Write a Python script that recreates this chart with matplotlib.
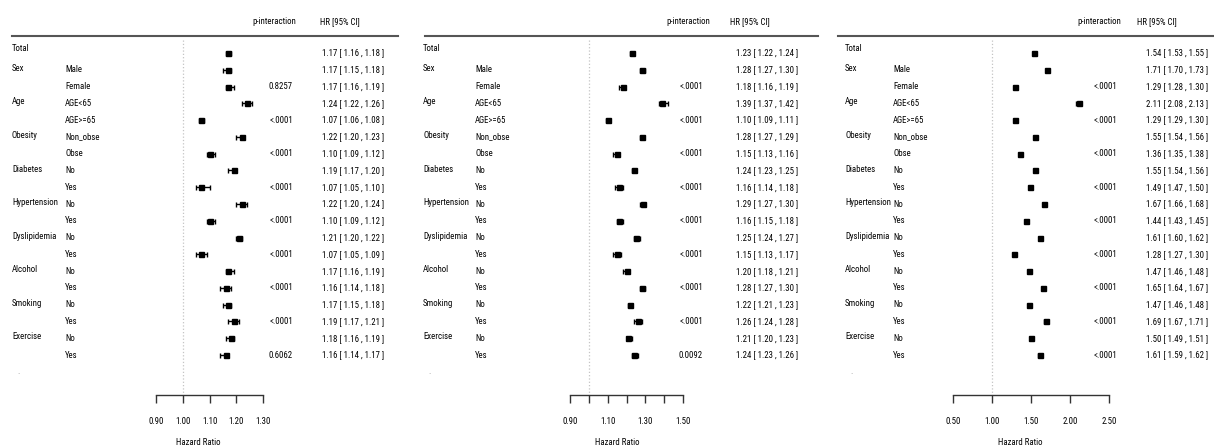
import os
import numpy as np
import matplotlib
matplotlib.use("Agg")
import matplotlib.pyplot as plt
from matplotlib import font_manager as fm
from matplotlib.lines import Line2D
from matplotlib.textpath import TextPath
from matplotlib.transforms import blended_transform_factory

# rows of the forest plots
groups = ["Total", "Sex", "", "Age", "", "Obesity", "", "Diabetes", "", "Hypertension", "",
          "Dyslipidemia", "", "Alcohol", "", "Smoking", "", "Exercise", ""]
subgroups = ["", "Male", "Female", "AGE<65", "AGE>=65", "Non_obse", "Obse", "No", "Yes",
             "No", "Yes", "No", "Yes", "No", "Yes", "No", "Yes", "No", "Yes"]

# panel 1
hr1 = [1.17, 1.17, 1.17, 1.24, 1.07, 1.22, 1.10, 1.19, 1.07, 1.22, 1.10, 1.21, 1.07, 1.17, 1.16, 1.17, 1.19, 1.18, 1.16]
lo1 = [1.16, 1.15, 1.16, 1.22, 1.06, 1.20, 1.09, 1.17, 1.05, 1.20, 1.09, 1.20, 1.05, 1.16, 1.14, 1.15, 1.17, 1.16, 1.14]
hi1 = [1.18, 1.18, 1.19, 1.26, 1.08, 1.23, 1.12, 1.20, 1.10, 1.24, 1.12, 1.22, 1.09, 1.19, 1.18, 1.18, 1.21, 1.19, 1.17]
p1 = ["", "", "0.8257", "", "<.0001", "", "<.0001", "", "<.0001", "", "<.0001", "", "<.0001",
      "", "<.0001", "", "<.0001", "", "0.6062"]

# panel 2
hr2 = [1.23, 1.28, 1.18, 1.39, 1.10, 1.28, 1.15, 1.24, 1.16, 1.29, 1.16, 1.25, 1.15, 1.20, 1.28, 1.22, 1.26, 1.21, 1.24]
lo2 = [1.22, 1.27, 1.16, 1.37, 1.09, 1.27, 1.13, 1.23, 1.14, 1.27, 1.15, 1.24, 1.13, 1.18, 1.27, 1.21, 1.24, 1.20, 1.23]
hi2 = [1.24, 1.30, 1.19, 1.42, 1.11, 1.29, 1.16, 1.25, 1.18, 1.30, 1.18, 1.27, 1.17, 1.21, 1.30, 1.23, 1.28, 1.23, 1.26]
p2 = ["", "", "<.0001", "", "<.0001", "", "<.0001", "", "<.0001", "", "<.0001", "", "<.0001",
      "", "<.0001", "", "<.0001", "", "0.0092"]

# panel 3
hr3 = [1.54, 1.71, 1.29, 2.11, 1.29, 1.55, 1.36, 1.55, 1.49, 1.67, 1.44, 1.61, 1.28, 1.47, 1.65, 1.47, 1.69, 1.50, 1.61]
lo3 = [1.53, 1.70, 1.28, 2.08, 1.29, 1.54, 1.35, 1.54, 1.47, 1.66, 1.43, 1.60, 1.27, 1.46, 1.64, 1.46, 1.67, 1.49, 1.59]
hi3 = [1.55, 1.73, 1.30, 2.13, 1.30, 1.56, 1.38, 1.56, 1.50, 1.68, 1.45, 1.62, 1.30, 1.48, 1.67, 1.48, 1.71, 1.51, 1.62]
p3 = ["", "", "<.0001", "", "<.0001", "", "<.0001", "", "<.0001", "", "<.0001", "", "<.0001",
      "", "<.0001", "", "<.0001", "", "<.0001"]

ticks1 = [0.9, 1.0, 1.1, 1.2, 1.3]
ticklabels1 = ["0.90", "1.00", "1.10", "1.20", "1.30"]
ticks2 = [0.9, 1.0, 1.1, 1.2, 1.3, 1.4, 1.5]
ticklabels2 = ["0.90", "", "1.10", "", "1.30", "", "1.50"]
ticks3 = [0.5, 1.0, 1.5, 2.0, 2.5]
ticklabels3 = ["0.50", "1.00", "1.50", "2.00", "2.50"]

W, H = 1214, 448
ROW0, ROWH = 53, 16.78      # pixel y of first row, row spacing
AXIS_Y, HEAD_Y = 395, 36


def pick_font():
    # the original uses a narrow font; take the narrowest one that is installed
    paths = set(fm.findSystemFonts()) | {f.fname for f in fm.fontManager.ttflist}
    prefs = ["liberationsansnarrow-regular", "arialn.", "arialnarrow", "robotocondensed-regular",
             "notosans-condensed.", "notosans-condensedregular", "opensans-condensed",
             "dejavusanscondensed.", "liberationsans-regular"]
    for pref in prefs:
        for p in sorted(paths):
            if pref in os.path.basename(p).lower():
                return fm.FontProperties(fname=p)
    return fm.FontProperties(family="DejaVu Sans")


FP = pick_font()
# size so that an HR string is roughly as wide as in the original
_w = TextPath((0, 0), "1.54 [ 1.53 , 1.55 ]", size=10, prop=FP).get_extents().width * 100 / 72
FS = float(min(7.5, 10 * 61 / _w))
FP.set_size(FS)


def row_at(py):
    return (py - ROW0) / ROWH


def fx(px):
    return px / W


def fy(py):
    return 1 - py / H


def draw_panel(fig, hr, lo, hi, pvals, ticks, ticklabels, lay):
    t0, t1 = ticks[0], ticks[-1]
    unit = (lay["ax1"] - lay["ax0"]) / (t1 - t0)
    left, right = lay["ax0"] - 10, lay["ax1"] + 10
    ax = fig.add_axes([fx(left), fy(AXIS_Y), (right - left) / W, (AXIS_Y - HEAD_Y) / H])
    ax.set_xlim(t0 - 10 / unit, t1 + 10 / unit)
    ax.set_ylim(row_at(AXIS_Y), row_at(HEAD_Y))
    ax.patch.set_alpha(0)
    for s in ["top", "left", "right"]:
        ax.spines[s].set_visible(False)
    ax.spines["bottom"].set_bounds(t0, t1)
    ax.spines["bottom"].set_color("#333333")
    ax.spines["bottom"].set_linewidth(1.0)
    ax.set_yticks([])
    ax.set_xticks(ticks)
    ax.set_xticklabels(ticklabels, fontproperties=FP)
    ax.tick_params(axis="x", direction="out", length=5.5, width=1.0, color="#333333", pad=10)

    rows = np.arange(len(hr))
    hr, lo, hi = np.array(hr), np.array(lo), np.array(hi)
    ax.plot([1.0, 1.0], [row_at(40), row_at(AXIS_Y)], color="#c4c4c4", lw=0.9, ls=":", zorder=1)
    ax.errorbar(hr, rows, xerr=[hr - lo, hi - hr], fmt="s", color="black", ms=3.6,
                elinewidth=1.0, capsize=1.8, capthick=1.0, zorder=3)

    tr = blended_transform_factory(fig.transFigure, ax.transData)
    for i in rows:
        if groups[i]:
            off = -0.25 if i == 0 else -0.08
            ax.text(fx(lay["grp"]), i + off, groups[i], transform=tr, fontproperties=FP, va="center", ha="left")
        if subgroups[i]:
            ax.text(fx(lay["sub"]), i, subgroups[i], transform=tr, fontproperties=FP, va="center", ha="left")
        if pvals[i]:
            ax.text(fx(lay["p"]), i, pvals[i], transform=tr, fontproperties=FP, va="center", ha="right")
        ax.text(fx(lay["hr"]), i, f"{hr[i]:.2f} [ {lo[i]:.2f} , {hi[i]:.2f} ]",
                transform=tr, fontproperties=FP, va="center", ha="left")
    # empty trailing row
    ax.text(fx(lay["grp"] + 5), len(hr), ".", transform=tr, fontsize=5, color="#999999", va="center")

    fig.add_artist(Line2D([fx(lay["line0"]), fx(lay["line1"])], [fy(HEAD_Y), fy(HEAD_Y)],
                          color="#555555", lw=1.5))
    fig.text(fx(lay["ph"]), fy(22), "p-interaction", fontproperties=FP, ha="center", va="center")
    fig.text(fx(lay["hh"]), fy(22), "HR [95% CI]", fontproperties=FP, ha="center", va="center")
    fig.text(fx(lay["xl"]), fy(442), "Hazard Ratio", fontproperties=FP, ha="center", va="center")
    return ax


fig = plt.figure(figsize=(W / 100, H / 100), dpi=100)

lay1 = dict(grp=12, sub=65, ax0=156, ax1=263, p=293, hr=322, line0=12, line1=398, ph=274, hh=340, xl=198)
lay2 = dict(grp=423, sub=475, ax0=570, ax1=683, p=703, hr=736, line0=425, line1=818, ph=688, hh=750, xl=617)
lay3 = dict(grp=845, sub=893, ax0=953, ax1=1109, p=1117, hr=1146, line0=838, line1=1214, ph=1099, hh=1157, xl=1020)

draw_panel(fig, hr1, lo1, hi1, p1, ticks1, ticklabels1, lay1)
draw_panel(fig, hr2, lo2, hi2, p2, ticks2, ticklabels2, lay2)
draw_panel(fig, hr3, lo3, hi3, p3, ticks3, ticklabels3, lay3)

fig.savefig("out.png", dpi=100)
